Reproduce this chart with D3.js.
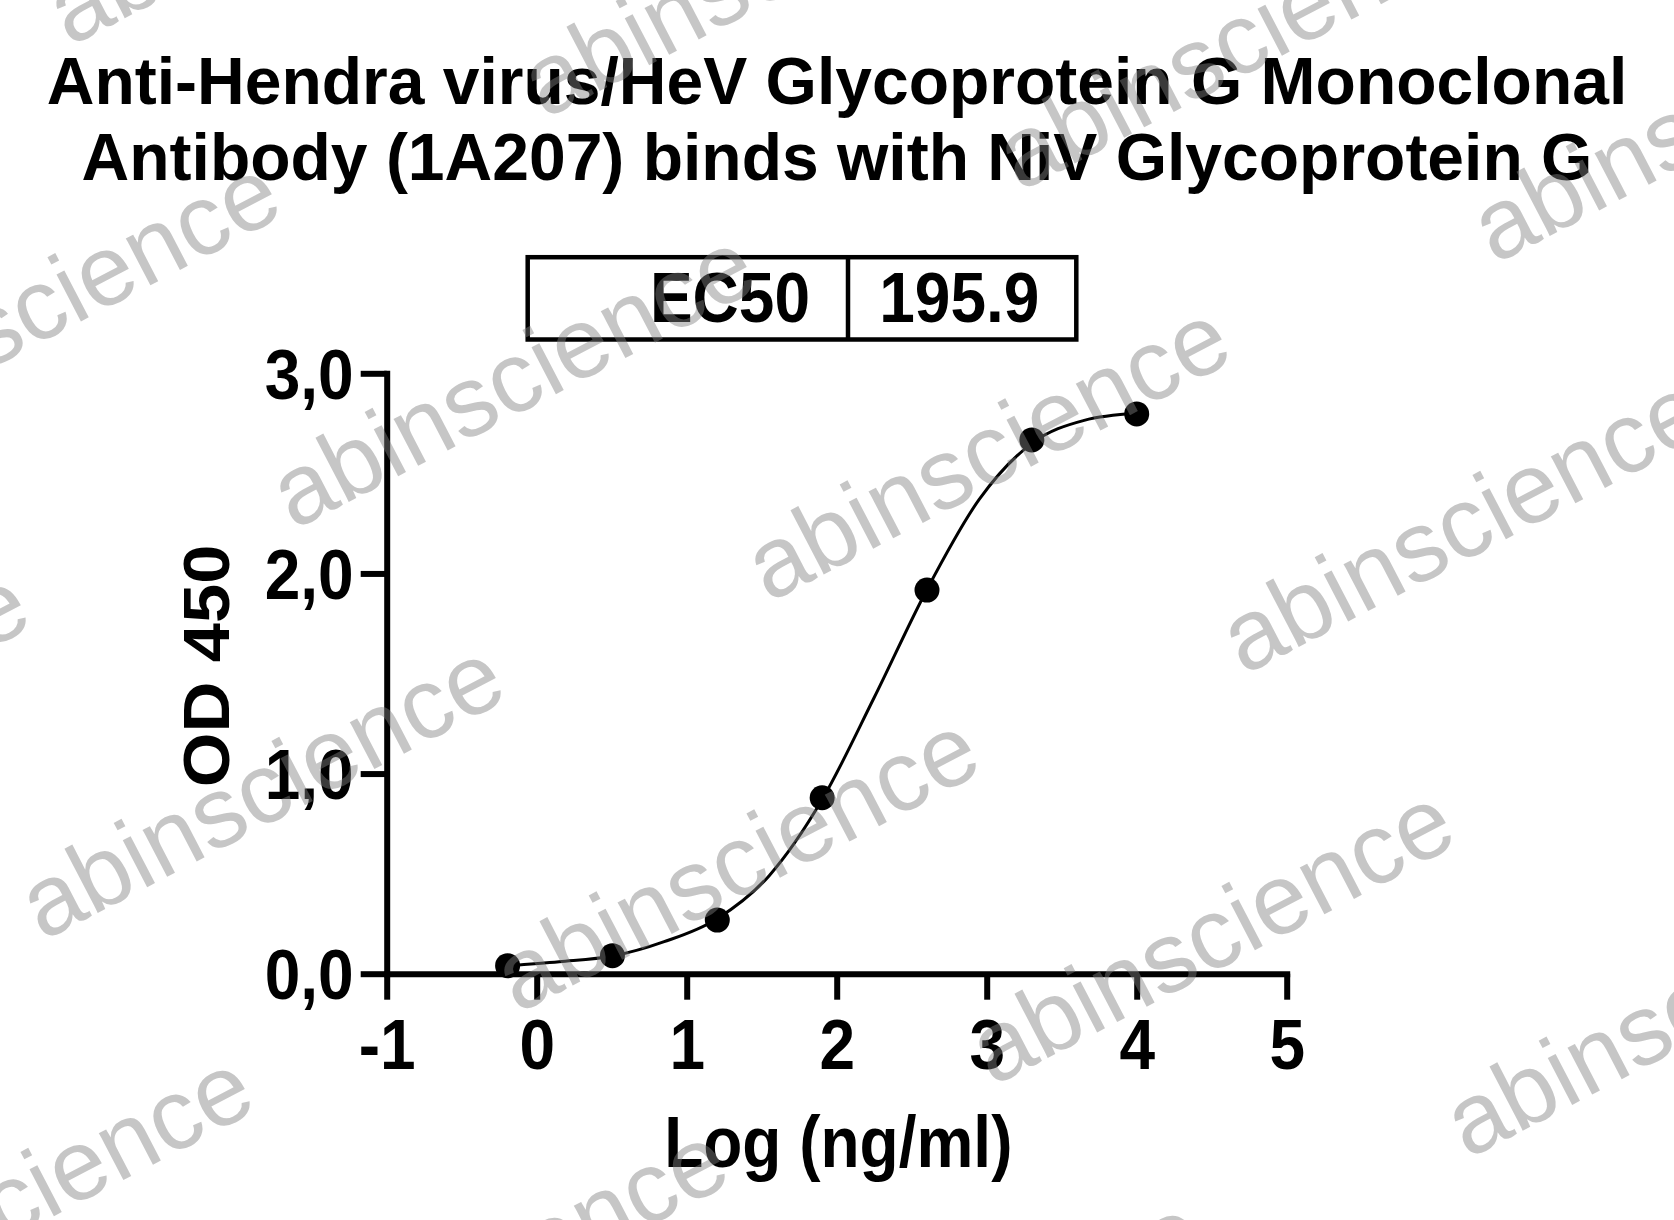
<!DOCTYPE html>
<html>
<head>
<meta charset="utf-8">
<title>HeV Glycoprotein G ELISA</title>
<script src="https://cdn.jsdelivr.net/npm/d3@7"></script>
<style>
  html, body { margin: 0; padding: 0; background: #fff; }
  svg { display: block; }
  text { font-family: "Liberation Sans", Arial, Helvetica, sans-serif; }
</style>
</head>
<body>
<div id="chart"></div>
<script>
const titleLines = [
  'Anti-Hendra virus/HeV Glycoprotein G Monoclonal',
  'Antibody (1A207) binds with NiV Glycoprotein G'
];
const xTicks = [-1, 0, 1, 2, 3, 4, 5];
const yTicks = [0, 1, 2, 3];

// measured points (log10 ng/ml, OD450)
const logConc = [-0.194, 0.505, 1.204, 1.903, 2.602, 3.301, 4.0];
const od450 = [0.040, 0.090, 0.268, 0.879, 1.917, 2.667, 2.797];

// fitted curve
const fitLogConc = [-0.194, 0.15, 0.505, 0.85, 1.204, 1.55, 1.903, 2.25, 2.602, 2.95, 3.301, 3.65, 4.0];
const fitOd = [0.040, 0.060, 0.088, 0.160, 0.275, 0.490, 0.870, 1.380, 1.920, 2.370, 2.650, 2.765, 2.800];

const ec50Label = 'EC50';
const ec50Value = '195.9';
const xTitle = 'Log (ng/ml)';
const yTitle = 'OD 450';
const watermark = 'abinscience';

const width = 1674;
const height = 1220;

const svg = d3.select('#chart')
  .append('svg')
  .attr('width', width)
  .attr('height', height);

svg.append('rect')
  .attr('width', width)
  .attr('height', height)
  .attr('fill', '#fff');

const x = d3.scaleLinear().domain([-1, 5]).range([386.7, 1286.7]);
const y = d3.scaleLinear().domain([0, 3]).range([973.7, 373.3]);

// title
svg.append('g')
  .selectAll('text')
  .data(titleLines)
  .enter()
  .append('text')
  .attr('x', 837)
  .attr('y', (d, i) => 103.5 + i * 76.5)
  .attr('text-anchor', 'middle')
  .attr('font-size', 66)
  .attr('font-weight', 'bold')
  .attr('fill', '#000')
  .text(d => d);

// EC50 table
const box = svg.append('g');
box.append('rect')
  .attr('x', 527.7)
  .attr('y', 257.2)
  .attr('width', 548.6)
  .attr('height', 82.3)
  .attr('fill', 'none')
  .attr('stroke', '#000')
  .attr('stroke-width', 4.5);
box.append('line')
  .attr('x1', 848).attr('x2', 848)
  .attr('y1', 257.2).attr('y2', 339.5)
  .attr('stroke', '#000')
  .attr('stroke-width', 4.5);
box.append('text')
  .attr('transform', 'translate(810,321.7) scale(1,1.1)')
  .attr('text-anchor', 'end')
  .attr('font-size', 64)
  .attr('font-weight', 'bold')
  .text(ec50Label);
box.append('text')
  .attr('transform', 'translate(959.3,321.7) scale(1,1.1)')
  .attr('text-anchor', 'middle')
  .attr('font-size', 64)
  .attr('font-weight', 'bold')
  .text(ec50Value);

// fitted curve
const line = d3.line()
  .x((d, i) => x(fitLogConc[i]))
  .y(d => y(d))
  .curve(d3.curveMonotoneX);

svg.append('path')
  .datum(fitOd)
  .attr('d', line)
  .attr('fill', 'none')
  .attr('stroke', '#000')
  .attr('stroke-width', 3);

// axes
const yAxis = svg.append('g')
  .attr('transform', `translate(${x(-1)},0)`)
  .call(d3.axisLeft(y)
    .tickValues(yTicks)
    .tickSize(26)
    .tickSizeOuter(0)
    .tickFormat(d => d3.format('.1f')(d).replace('.', ',')));

const xAxis = svg.append('g')
  .attr('transform', `translate(0,${y(0)})`)
  .call(d3.axisBottom(x)
    .tickValues(xTicks)
    .tickSize(26)
    .tickSizeOuter(0)
    .tickFormat(d => String(d)));

[yAxis, xAxis].forEach(ax => {
  ax.attr('font-size', null).attr('font-family', null);
  ax.select('.domain')
    .attr('stroke', '#000')
    .attr('stroke-width', 6)
    .attr('stroke-linecap', 'square');
  ax.selectAll('.tick line')
    .attr('stroke', '#000')
    .attr('stroke-width', 6);
  ax.selectAll('.tick text')
    .attr('x', null)
    .attr('y', null)
    .attr('dy', null)
    .attr('fill', '#000')
    .attr('font-size', 64)
    .attr('font-weight', 'bold');
});

yAxis.selectAll('.tick text')
  .attr('transform', 'translate(-33,25) scale(1,1.1)');
xAxis.selectAll('.tick text')
  .attr('transform', 'translate(0,95.3) scale(1,1.1)');

// points
svg.append('g')
  .selectAll('circle')
  .data(od450)
  .enter()
  .append('circle')
  .attr('cx', (d, i) => x(logConc[i]))
  .attr('cy', d => y(d))
  .attr('r', 12.5)
  .attr('fill', '#000');

// axis titles
svg.append('text')
  .attr('transform', 'translate(838.3,1166.7) scale(1,1.12)')
  .attr('text-anchor', 'middle')
  .attr('font-size', 64)
  .attr('font-weight', 'bold')
  .text(xTitle);

svg.append('text')
  .attr('transform', 'translate(229,666) rotate(-90) scale(1.1,1)')
  .attr('text-anchor', 'middle')
  .attr('font-size', 64)
  .attr('font-weight', 'bold')
  .text(yTitle);

// watermark tiles over everything
const wm = svg.append('g')
  .attr('fill', '#808080')
  .attr('fill-opacity', 0.45)
  .attr('pointer-events', 'none');

for (let j = -2; j <= 3; j++) {
  for (let i = -3; i <= 3; i++) {
    const px = 768.7 + i * 475 - j * 251;
    const py = 603.2 + i * 72.6 + j * 411;
    if (px < -600 || px > width + 50 || py < -50 || py > height + 400) continue;
    wm.append('text')
      .attr('transform', `translate(${px},${py}) rotate(-27.5)`)
      .attr('font-size', 100)
      .text(watermark);
  }
}
</script>
</body>
</html>
